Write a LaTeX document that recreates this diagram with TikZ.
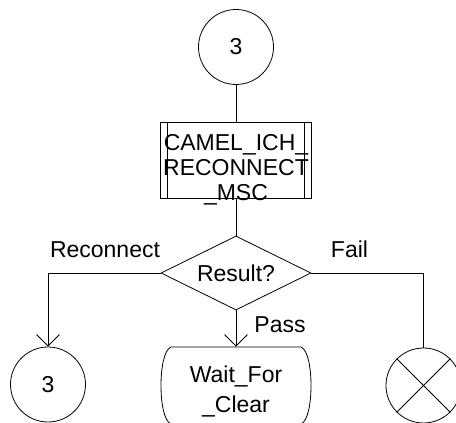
\documentclass[tikz,border=0pt]{standalone}
\usepackage{fontspec}
\setmainfont{Liberation Sans}
\usetikzlibrary{arrows.meta,shapes.geometric,calc}
\begin{document}
\begin{tikzpicture}[x=1pt,y=-1pt,line width=0.8pt,
  every node/.style={inner sep=0pt,font=\fontsize{23}{25}\selectfont},
  conn/.style={circle,draw,minimum size=75pt},
  procbox/.style={rectangle,draw,minimum width=151pt,minimum height=76pt},
  decision/.style={diamond,draw,shape aspect=2,minimum width=150pt,minimum height=74pt},
  lbl/.style={anchor=base},
  flow/.style={-{Straight Barb[length=11.5pt,width=23pt]}}]
\useasboundingbox (0,0) rectangle (456,423);
% top connector
\node[conn] (c3top) at (236,47) {3};
% procedure box
\node[procbox] (proc) at (236,160) {};
\draw ($(proc.north west)+(7.5,0)$) -- ($(proc.south west)+(7.5,0)$);
\draw ($(proc.north east)+(-7.5,0)$) -- ($(proc.south east)+(-7.5,0)$);
\node[anchor=base,align=center] (proctext) at (236,200) {CAMEL\_ICH\_\\RECONNECT\\\_MSC};
% decision
\node[decision] (dec) at (236,273) {Result?};
% bottom-left connector
\node[conn] (c3bot) at (48,384.5) {3};
% state
\node[minimum width=150pt,minimum height=77pt] (wait) at (236,385.5) {};
\draw (171,347) -- (301,347)
  .. controls (308,350) and (311,368) .. (311,385.5)
  .. controls (311,403) and (308,421) .. (301,424)
  -- (171,424)
  .. controls (164,421) and (161,403) .. (161,385.5)
  .. controls (161,368) and (164,350) .. (171,347);
\node[anchor=base,align=center,font=\fontsize{23}{30}\selectfont] (waittext) at (236,412) {Wait\_For\\\_Clear};
% stop
\node[conn] (stop) at (423.5,385.5) {};
\draw (stop.north west) -- (stop.south east);
\draw (stop.north east) -- (stop.south west);
% connectors
\draw (c3top.south) -- (proc.north);
\draw (proc.south) -- (dec.north);
\draw[flow] (dec.west) -| (c3bot.north);
\draw[flow] (dec.south) -- (wait.north);
\draw (dec.east) -| (stop.north);
% labels
\node[lbl] (lrec) at (105,257.5) {Reconnect};
\node[lbl] (lfail) at (349.5,257) {Fail};
\node[lbl] (lpass) at (280,332) {Pass};
\end{tikzpicture}
\end{document}
